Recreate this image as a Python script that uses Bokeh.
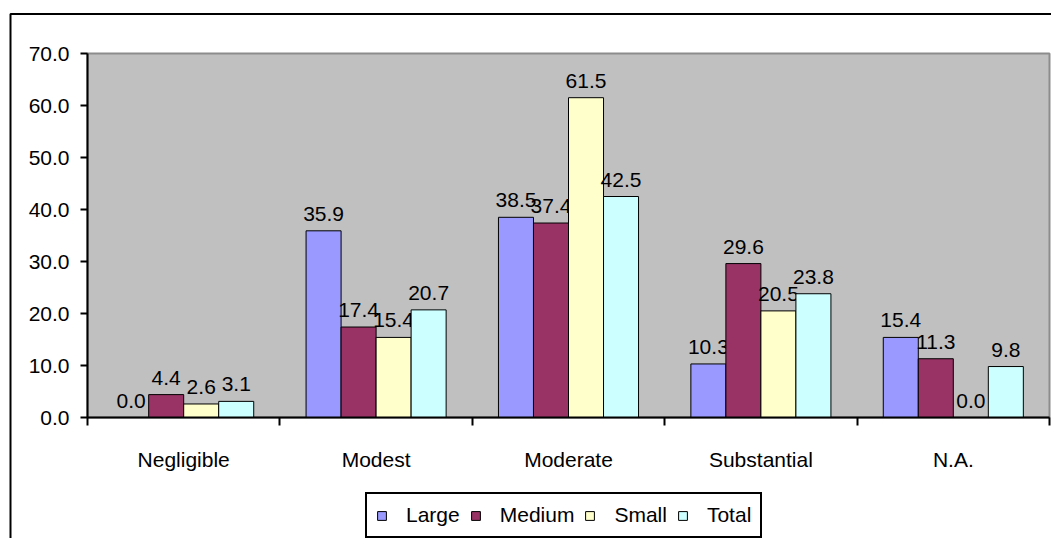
from bokeh.plotting import figure
from bokeh.models import (Range1d, FixedTicker, Legend, LegendItem, NumeralTickFormatter,
                          BoxAnnotation)
from bokeh.core.properties import value
from bokeh.embed import file_html
from bokeh.resources import INLINE

categories = ["Negligible", "Modest", "Moderate", "Substantial", "N.A."]
series_names = ["Large", "Medium", "Small", "Total"]
large = [0.0, 35.9, 38.5, 10.3, 15.4]
medium = [4.4, 17.4, 37.4, 29.6, 11.3]
small = [2.6, 15.4, 61.5, 20.5, 0.0]
total = [3.1, 20.7, 42.5, 23.8, 9.8]
y_ticks = [0, 10, 20, 30, 40, 50, 60, 70]
y_max = 70

series_values = [large, medium, small, total]
colors = ["#9999FF", "#993366", "#FFFFCC", "#CCFFFF"]
FONT = "Liberation Sans"
FS = "21px"

# canvas geometry (pixels)
W, H = 1051, 538
PX_LEFT, PX_RIGHT = 87, 1049      # plot area left / right inside canvas
PX_TOP, PX_BOTTOM = 53, 417       # plot area top / bottom inside canvas
n = len(categories)
sx = (PX_RIGHT - PX_LEFT) / n
sy = (PX_BOTTOM - PX_TOP) / y_max
x_range = Range1d(-PX_LEFT / sx, n + (W - PX_RIGHT) / sx)
y_range = Range1d(-(H - PX_BOTTOM) / sy, y_max + PX_TOP / sy)

p = figure(width=W, height=H, output_backend="svg", toolbar_location=None,
           x_range=x_range, y_range=y_range,
           min_border_left=0, min_border_right=0, min_border_top=0, min_border_bottom=0)
p.background_fill_color = "white"
p.border_fill_color = "white"
p.outline_line_color = None
p.xgrid.visible = False
p.ygrid.visible = False

# outer chart border (left and top edges visible)
p.add_layout(BoxAnnotation(left=x_range.start + 10 / sx, right=x_range.end + 5,
                           top=y_range.end - 13.5 / sy, bottom=y_range.start - 5,
                           fill_alpha=0, line_color="black", line_alpha=1, line_width=2,
                           level="underlay"))
# plot area
p.add_layout(BoxAnnotation(left=0, right=n, bottom=0, top=y_max,
                           fill_color="#C0C0C0", fill_alpha=1,
                           line_color="#8C8C8C", line_alpha=1, line_width=2,
                           level="underlay"))

# y axis
p.yaxis.fixed_location = 0
p.yaxis.bounds = (0, y_max)
p.yaxis.ticker = FixedTicker(ticks=y_ticks)
p.yaxis.formatter = NumeralTickFormatter(format="0.0")
p.yaxis.axis_line_width = 2
p.yaxis.axis_line_color = "black"
p.yaxis.major_tick_out = 7
p.yaxis.major_tick_in = 0
p.yaxis.major_tick_line_width = 2
p.yaxis.minor_tick_line_color = None
p.yaxis.major_label_standoff = 11
p.yaxis.major_label_text_font = FONT
p.yaxis.major_label_text_font_size = FS
p.yaxis.major_label_text_color = "black"

# x axis: labels at category centres, ticks at boundaries
centres = [i + 0.5 for i in range(n)]
bounds = [i for i in range(n + 1)]
p.xaxis.fixed_location = 0
p.xaxis.bounds = (0, n)
p.xaxis.ticker = FixedTicker(ticks=centres, minor_ticks=bounds)
p.xaxis.major_label_overrides = {c: name for c, name in zip(centres, categories)}
p.xaxis.axis_line_width = 2
p.xaxis.axis_line_color = "black"
p.xaxis.major_tick_out = 0
p.xaxis.major_tick_in = 0
p.xaxis.minor_tick_out = 8
p.xaxis.minor_tick_in = 0
p.xaxis.minor_tick_line_width = 2
p.xaxis.minor_tick_line_color = "black"
p.xaxis.major_label_standoff = 22
p.xaxis.major_label_text_font = FONT
p.xaxis.major_label_text_font_size = FS
p.xaxis.major_label_text_color = "black"

w = 0.182
items = []
for j, (name, vals, col) in enumerate(zip(series_names, series_values, colors)):
    xs = [i + 0.5 + (j - 1.5) * w for i in range(n)]
    r = p.vbar(x=xs, top=vals, width=w, fill_color=col, line_color="black", line_width=1)
    p.text(x=xs, y=vals, text=[f"{v:.1f}" for v in vals], text_align="center",
           text_baseline="alphabetic", y_offset=-17, text_font=value(FONT),
           text_font_size=FS, text_color="black")
    items.append(LegendItem(label=name, renderers=[r]))

legend = Legend(items=items, orientation="horizontal", location=(365, 0),
                glyph_width=11, glyph_height=11, label_standoff=19, spacing=10,
                padding=9, margin=0, border_line_color="black", border_line_alpha=1,
                border_line_width=2,
                label_text_font=FONT, label_text_font_size=FS, label_text_color="black",
                background_fill_color="white", background_fill_alpha=1)
p.add_layout(legend)

open("out.html", "w").write(file_html(p, INLINE))
